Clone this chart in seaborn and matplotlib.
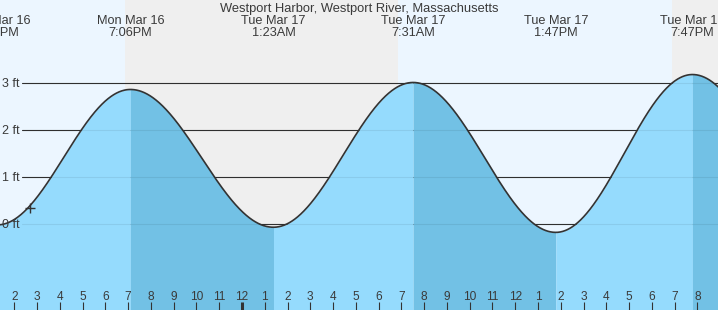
import numpy as np
import pandas as pd
import matplotlib
matplotlib.use("Agg")
import matplotlib.pyplot as plt
import matplotlib.transforms as mtransforms
import seaborn as sns

sns.set_style("white")
plt.rcParams['font.family'] = ['Liberation Sans', 'DejaVu Sans']

# ---------------- data ----------------
title = "Westport Harbor, Westport River, Massachusetts"
# tide extremes, hours counted from Mon Mar 16 00:00
tide_times = [13.25, 19.1, 25.383, 31.517, 37.783, 43.783, 50.0]
tide_heights = [-0.03, 2.87, -0.08, 3.02, -0.19, 3.19, -0.15]
tide_days = ["Mon Mar 16", "Mon Mar 16", "Tue Mar 17", "Tue Mar 17",
             "Tue Mar 17", "Tue Mar 17", "Wed Mar 18"]
tide_clock = ["1:15PM", "7:06PM", "1:23AM", "7:31AM", "1:47PM", "7:47PM", "2:00AM"]

night_start = [18.86, 42.88]
night_end = [30.85, 54.8]

grid_levels = [0, 1, 2, 3]
grid_labels = ["0 ft", "1 ft", "2 ft", "3 ft"]

hour_ticks = list(range(14, 45))
hour_labels = ["2", "3", "4", "5", "6", "7", "8", "9", "10", "11", "12", "1",
               "2", "3", "4", "5", "6", "7", "8", "9", "10", "11", "12", "1",
               "2", "3", "4", "5", "6", "7", "8"]
midnight_tick = 24

now_time = 14.7
now_height = 0.33

# ---------------- style ----------------
W, H = 718, 310
day_bg = "#ECF6FF"
night_bg = "#EFEFEF"
rise_fill = "#95DBFD"
fall_fill = "#72C1E5"
ink = "#333333"
txt = "#3a3a3a"

x_lo, x_hi = 13.372, 44.905
y_lo, y_hi = -1.852, 4.786

fig = plt.figure(figsize=(W / 100, H / 100), dpi=100)
ax = fig.add_axes([0, 0, 1, 1])
ax.set_xlim(x_lo, x_hi)
ax.set_ylim(y_lo, y_hi)
ax.axis("off")

# backgrounds
ax.axvspan(x_lo - 1, x_hi + 1, color=day_bg, lw=0, zorder=0)
for s, e in zip(night_start, night_end):
    ax.axvspan(s, e, color=night_bg, lw=0, zorder=0.1)

# dark grid lines (under the water)
for lv in grid_levels:
    ax.axhline(lv, xmin=22 / W, xmax=1, color=ink, lw=0.8, zorder=1)

# tide curve built between extremes
frames = []
for i in range(len(tide_times) - 1):
    t0, t1 = tide_times[i], tide_times[i + 1]
    h0, h1 = tide_heights[i], tide_heights[i + 1]
    tt = np.linspace(t0, t1, 400)
    hh = h0 + (h1 - h0) * (1 - np.cos(np.pi * (tt - t0) / (t1 - t0))) / 2
    col = rise_fill if h1 > h0 else fall_fill
    ax.fill_between(tt, y_lo - 1, hh, color=col, lw=0, zorder=2)
    frames.append(pd.DataFrame({"t": tt, "h": hh}))
curve = pd.concat(frames, ignore_index=True)

# faint grid lines visible through the water
for lv in grid_levels:
    ax.axhline(lv, xmin=22 / W, xmax=1, color="black", alpha=0.07, lw=0.8, zorder=3)

sns.lineplot(data=curve, x="t", y="h", ax=ax, color=ink, lw=1.2,
             sort=False, estimator=None, zorder=4)
ax.plot([now_time], [now_height], marker="+", ms=7, mew=1.0, color=ink, zorder=5)

ax.set_xlim(x_lo, x_hi)
ax.set_ylim(y_lo, y_hi)
ax.axis("off")

# top labels
tx = mtransforms.blended_transform_factory(ax.transData, ax.transAxes)
ax.text(0.5, 1 - 12 / H, title, transform=ax.transAxes, ha="center",
        va="baseline", fontsize=9.3, color=txt, zorder=6)
for t, d, c in zip(tide_times, tide_days, tide_clock):
    ax.text(t, 1 - 24.3 / H, d, transform=tx, ha="center", va="baseline",
            fontsize=9.2, color=txt, zorder=6)
    ax.text(t, 1 - 36 / H, c, transform=tx, ha="center", va="baseline",
            fontsize=9.2, color=txt, zorder=6)

# y labels
ty = mtransforms.blended_transform_factory(ax.transAxes, ax.transData)
ty_off = mtransforms.offset_copy(ty, fig=fig, y=-4, units="dots")
for lv, lab in zip(grid_levels, grid_labels):
    ax.text(2.5 / W, lv, lab, transform=ty_off, ha="left", va="baseline",
            fontsize=9, color=txt, zorder=6)

# hour ticks
for hr, lab in zip(hour_ticks, hour_labels):
    ax.text(hr, 1 - 300 / H, lab, transform=tx, ha="center", va="baseline",
            fontsize=8.6, color=txt, zorder=6)
    lw = 2.2 if hr == midnight_tick else 0.8
    ax.plot([hr, hr], [0, 8.3 / H], transform=tx, color=ink, lw=lw,
            solid_capstyle="butt", zorder=6)

fig.savefig("out.png", dpi=100)
